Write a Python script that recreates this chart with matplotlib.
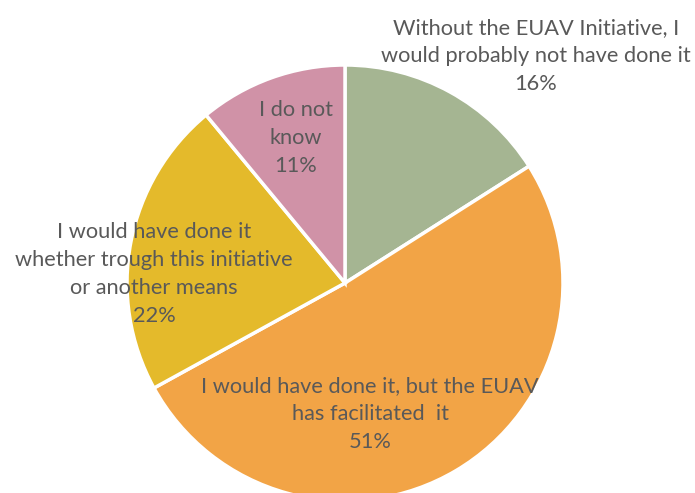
import matplotlib.pyplot as plt

labels = ["Without the EUAV Initiative, I\nwould probably not have done it",
          "I would have done it, but the EUAV\nhas facilitated  it",
          "I would have done it\nwhether trough this initiative\nor another means",
          "I do not\nknow"]
shares = [16, 51, 22, 11]
colors = ["#A5B592", "#F2A446", "#E4BA2B", "#D092A7"]

# label centres in pixel coords (top-left origin)
label_pos = [(536, 56), (370, 414), (154, 274), (296, 138)]

fig = plt.figure(figsize=(6.95, 4.93), dpi=100)
ax = fig.add_axes([0, 0, 1, 1])

ax.pie(shares, colors=colors, startangle=90, counterclock=False,
       center=(345, 493 - 283), radius=218, frame=True,
       wedgeprops=dict(edgecolor="white", linewidth=2.5))
ax.set_xlim(0, 695)
ax.set_ylim(0, 493)
ax.set_aspect("equal")
ax.axis("off")

for lab, v, (x, y) in zip(labels, shares, label_pos):
    ax.text(x, 493 - y, f"{lab}\n{v}%", ha="center", va="center",
            fontsize=15.7, family="Lato", color="#595959", linespacing=1.48)

fig.savefig("out.png", dpi=100)
